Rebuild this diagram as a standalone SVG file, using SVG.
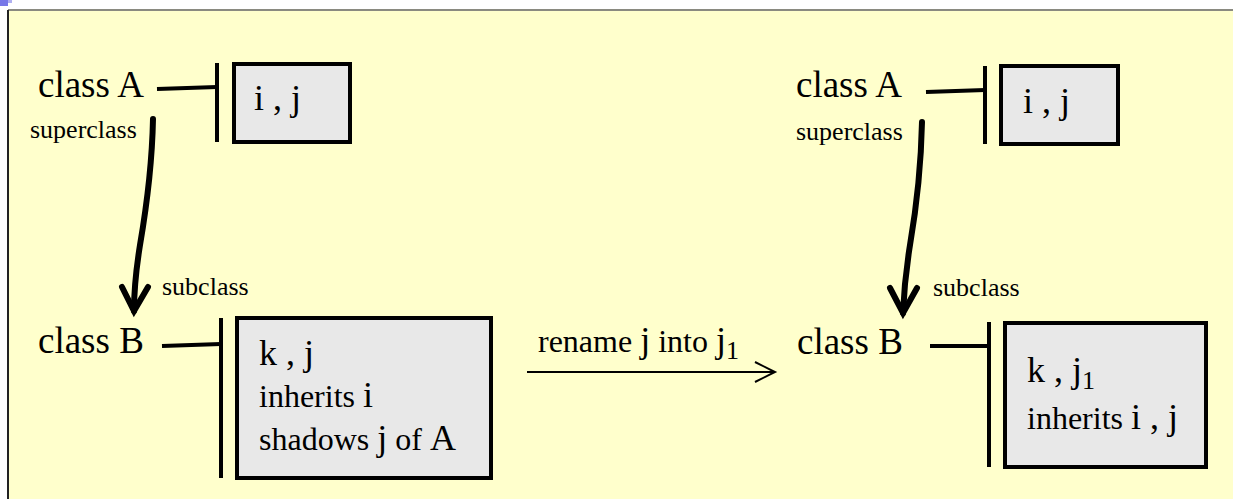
<svg xmlns="http://www.w3.org/2000/svg" width="1233" height="499" viewBox="0 0 1233 499">
  <style>
    .lbl { font-family: "Liberation Serif", "Times New Roman", serif; fill: #000; }
    .cls { font-size: 37px; }
    .role { font-size: 26px; }
    .body { font-size: 32px; }
    .v { font-size: 36px; }
    .sub { font-size: 26px; }
    .box { fill: #e8e8e8; stroke: #000; stroke-width: 4; }
    .tie { stroke: #000; stroke-width: 4; fill: none; }
    .inh { stroke: #000; stroke-width: 6; fill: none; stroke-linecap: round; stroke-linejoin: miter; }
    .ren { stroke: #000; stroke-width: 2; fill: none; }
  </style>

  <!-- page background and slide frame -->
  <rect x="0" y="0" width="1233" height="499" fill="#ffffff"/>
  <rect x="8" y="10" width="1225" height="489" fill="#ffffcc"/>
  <line x1="8" y1="10" x2="1233" y2="10" stroke="#8a8a80" stroke-width="2"/>
  <line x1="8" y1="10" x2="8" y2="499" stroke="#222" stroke-width="2"/>
  <rect x="0" y="0" width="8" height="6" fill="#7878e8"/>
  <rect x="8" y="0" width="4" height="3" fill="#b0b0f0"/>

  <!-- left: before renaming -->
  <g id="left-classA">
    <text class="lbl cls" x="38" y="97">class A</text>
    <rect class="box" x="234" y="64" width="116" height="78"/>
    <text class="lbl v" x="254" y="110">i , j</text>
  </g>
  <g id="left-classB">
    <text class="lbl cls" x="38" y="353">class B</text>
    <rect class="box" x="237" y="318" width="254" height="160"/>
    <text class="lbl v" x="259" y="365">k , j</text>
    <text class="lbl body" x="259" y="407">inherits <tspan class="v">i</tspan></text>
    <text class="lbl body" x="259" y="450">shadows <tspan class="v">j</tspan> of <tspan class="v">A</tspan></text>
  </g>

  <!-- right: after renaming -->
  <g id="right-classA">
    <text class="lbl cls" x="796" y="97">class A</text>
    <rect class="box" x="1001" y="66" width="117" height="78"/>
    <text class="lbl v" x="1023" y="113">i , j</text>
  </g>
  <g id="right-classB">
    <text class="lbl cls" x="797" y="354">class B</text>
    <rect class="box" x="1005" y="323" width="201" height="144"/>
    <text class="lbl v" x="1027" y="382">k , j<tspan class="sub" dy="7">1</tspan></text>
    <text class="lbl body" x="1027" y="429">inherits <tspan class="v">i , j</tspan></text>
  </g>

  <g id="connectors">
    <!-- class-to-members ties -->
    <line class="tie" x1="157" y1="89" x2="217" y2="87"/>
    <line class="tie" x1="217" y1="63" x2="217" y2="142"/>
    <line class="tie" x1="162" y1="346" x2="221" y2="344"/>
    <line class="tie" x1="221" y1="318" x2="221" y2="478"/>
    <line class="tie" x1="926" y1="92" x2="985" y2="90"/>
    <line class="tie" x1="985" y1="66" x2="985" y2="144"/>
    <line class="tie" x1="930" y1="346" x2="989" y2="346"/>
    <line class="tie" x1="989" y1="322" x2="989" y2="467"/>

    <!-- inheritance arrows -->
    <path class="inh" d="M153,119 C152,170 146,210 140,245 C136,270 134,290 134,311"/>
    <path class="inh" d="M122,287 L134,311 L148,287"/>
    <text class="lbl role" x="30" y="138">superclass</text>
    <text class="lbl role" x="162" y="295">subclass</text>

    <path class="inh" d="M922,122 C921,170 916,210 910,245 C906,270 904,290 903,313"/>
    <path class="inh" d="M890,288 L903,313 L917,288"/>
    <text class="lbl role" x="796" y="140">superclass</text>
    <text class="lbl role" x="933" y="296">subclass</text>

    <!-- renaming step -->
    <line class="ren" x1="527" y1="372" x2="774" y2="372"/>
    <path class="ren" d="M755,362 L775,372 L755,382"/>
    <text class="lbl body" x="538" y="352">rename <tspan class="v">j</tspan> into <tspan class="v">j</tspan><tspan class="sub" dy="7">1</tspan></text>
  </g>
</svg>
